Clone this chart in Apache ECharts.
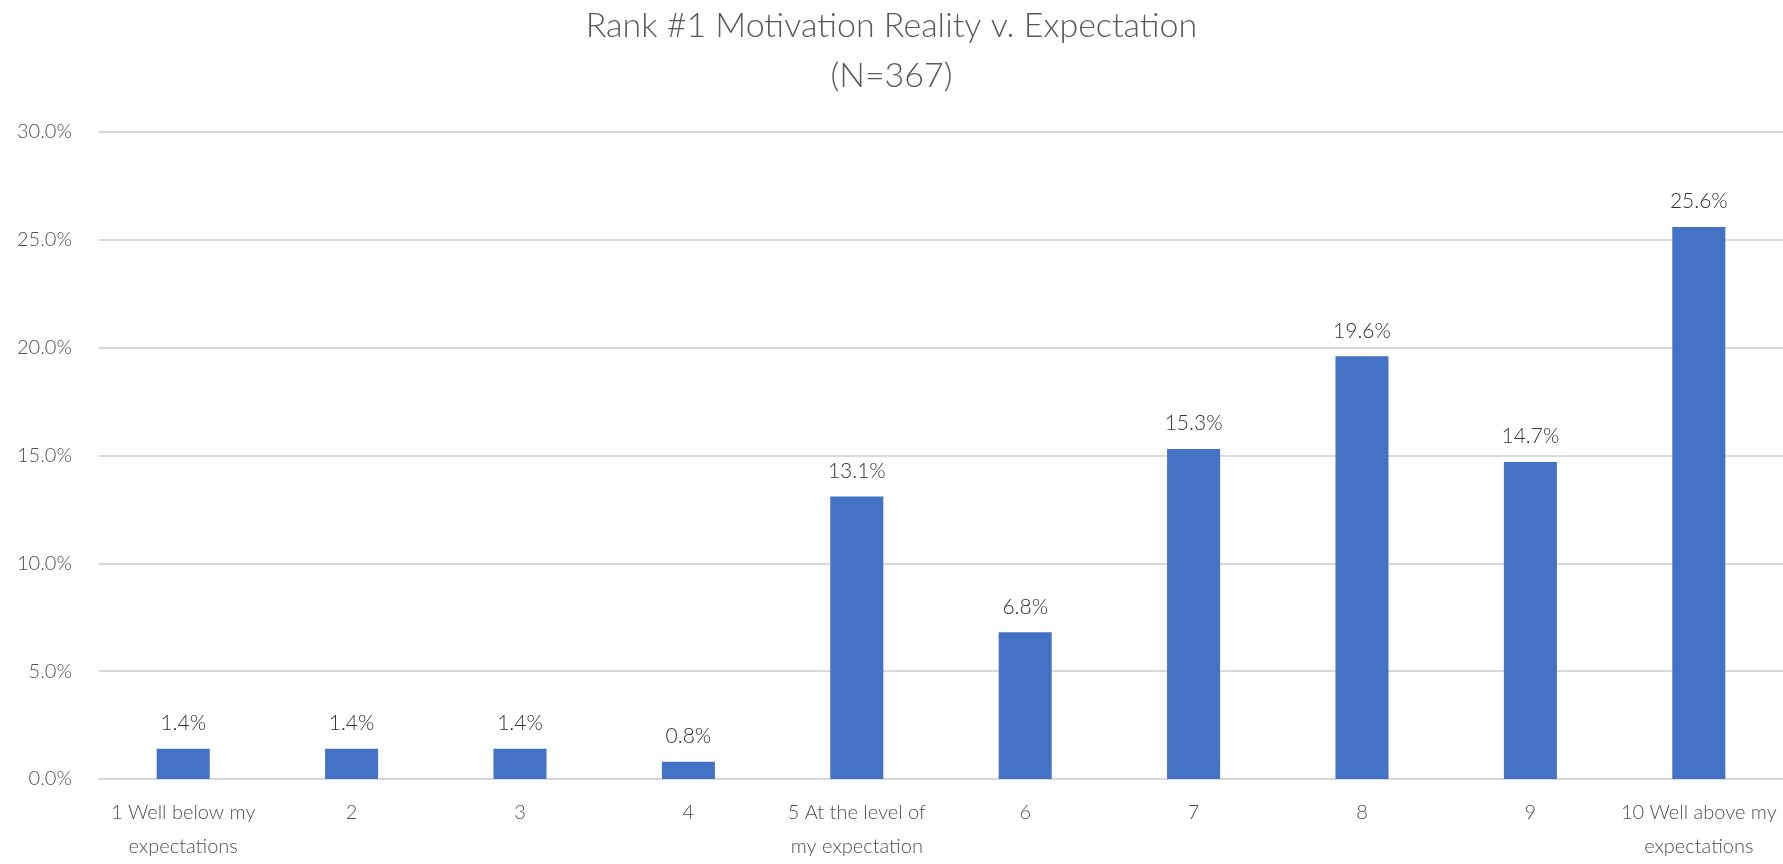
<!DOCTYPE html>
<html>
<head>
<meta charset="utf-8">
<script src="https://cdn.jsdelivr.net/npm/echarts@6/dist/echarts.min.js"></script>
<style>
html,body{margin:0;padding:0;background:#fff;}
#chart{width:1783px;height:864px;}
</style>
</head>
<body>
<div id="chart"></div>
<script>
const titleLines = ['Rank #1 Motivation Reality v. Expectation', '(N=367)'];
const categories = ['1 Well below my\nexpectations', '2', '3', '4', '5 At the level of\nmy expectation', '6', '7', '8', '9', '10 Well above my\nexpectations'];
const values = [1.4, 1.4, 1.4, 0.8, 13.1, 6.8, 15.3, 19.6, 14.7, 25.6];
const yTicks = { min: 0, max: 30, interval: 5 };

const chart = echarts.init(document.getElementById('chart'));
const font = 'Lato';
chart.setOption({
  animation: false,
  title: {
    text: titleLines.join('\n'),
    left: 'center',
    top: -4,
    textStyle: { fontFamily: font, fontWeight: 300, fontSize: 34, color: '#595959', lineHeight: 50 }
  },
  grid: { left: 99, right: 0, top: 132, bottom: 81, containLabel: false },
  xAxis: {
    type: 'category',
    data: categories,
    axisLine: { show: true, lineStyle: { color: '#d9d9d9', width: 2 } },
    axisTick: { show: false },
    axisLabel: { fontFamily: font, fontWeight: 300, fontSize: 20, color: '#505050', lineHeight: 34, margin: 17, interval: 0 }
  },
  yAxis: {
    type: 'value',
    min: yTicks.min, max: yTicks.max, interval: yTicks.interval,
    axisLine: { show: false },
    axisTick: { show: false },
    splitLine: { lineStyle: { color: '#d9d9d9', width: 2 } },
    axisLabel: { fontFamily: font, fontWeight: 300, fontSize: 20, color: '#505050', margin: 27, formatter: v => v.toFixed(1) + '%' }
  },
  series: [{
    type: 'bar',
    data: values,
    barWidth: '31.5%',
    itemStyle: { color: '#4472C4' },
    label: { show: true, position: 'top', distance: 15, fontFamily: font, fontWeight: 300, fontSize: 21, color: '#333333', formatter: p => p.value.toFixed(1) + '%' }
  }]
});
</script>
</body>
</html>
